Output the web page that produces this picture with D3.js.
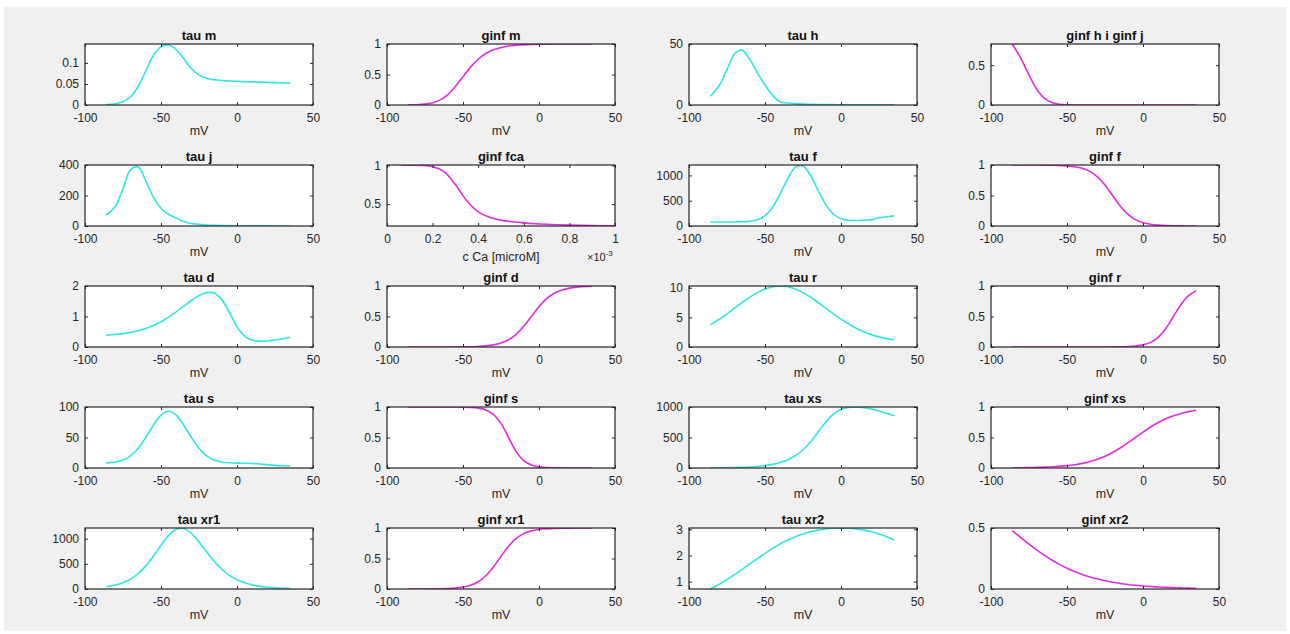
<!DOCTYPE html>
<html>
<head>
<meta charset="utf-8">
<script src="https://cdn.jsdelivr.net/npm/d3@7"></script>
<style>
  body { margin: 0; background: #fff; }
  svg text { font-family: "Liberation Sans", Arial, sans-serif; }
</style>
</head>
<body>
<svg id="fig" width="1290" height="634"></svg>
<script>
// membrane potential (mV) and calcium concentration samples
const voltage = [-86, -80, -75, -70, -65, -60, -55, -50, -45, -40, -35, -30, -25, -20, -15, -10, -5, 0, 5, 10, 15, 20, 25, 30, 35];
const calcium = [0.06e-3, 0.1e-3, 0.15e-3, 0.2e-3, 0.25e-3, 0.3e-3, 0.35e-3, 0.4e-3, 0.45e-3, 0.5e-3, 0.55e-3, 0.6e-3, 0.65e-3, 0.7e-3, 0.75e-3, 0.8e-3, 0.85e-3, 0.9e-3, 0.95e-3, 1e-3];

// values
const tauM = [0.0009, 0.0030, 0.0078, 0.0196, 0.0440, 0.0814, 0.1177, 0.1387, 0.1426, 0.1318, 0.1097, 0.0866, 0.0711, 0.0634, 0.0599, 0.0581, 0.0571, 0.0563, 0.0556, 0.0550, 0.0544, 0.0537, 0.0531, 0.0525, 0.0519];
const ginfM = [0.0015, 0.0051, 0.0140, 0.0358, 0.0834, 0.1713, 0.3039, 0.4642, 0.6210, 0.7502, 0.8435, 0.9052, 0.9438, 0.9671, 0.9809, 0.9890, 0.9936, 0.9963, 0.9979, 0.9988, 0.9993, 0.9996, 0.9998, 0.9999, 0.9999];
const tauH = [7.11, 16.2, 28.95, 42.0, 45.0, 37.24, 26.4, 16.4, 7.97, 2.55, 1.68, 1.13, 0.783, 0.560, 0.418, 0.328, 0.270, 0.233, 0.210, 0.195, 0.185, 0.179, 0.176, 0.174, 0.172];
const ginfH = [0.7655, 0.5733, 0.377, 0.2007, 0.0857, 0.0304, 0.0095, 0.0027, 0.0007, 0.0002, 0.00005, 0.00001, 0, 0, 0, 0, 0, 0, 0, 0, 0, 0, 0, 0, 0];
const tauJ = [71.7, 130, 244.6, 370, 387, 295, 189, 116.8, 75.5, 53, 28.8, 16.8, 10.4, 6.78, 4.63, 3.27, 2.37, 1.73, 1.28, 0.957, 0.715, 0.536, 0.402, 0.302, 0.227];
const ginfFca = [1.0064, 1.0045, 1.0007, 0.9851, 0.9202, 0.7536, 0.5427, 0.4001, 0.3285, 0.2921, 0.2704, 0.2559, 0.2454, 0.2378, 0.2321, 0.2277, 0.2241, 0.2211, 0.2184, 0.2160];
const tauF = [80.0, 80.0, 80.1, 80.5, 82.8, 92.1, 123, 204.3, 371.8, 636.6, 942.2, 1164.3, 1187.5, 999, 700.4, 422.2, 237.2, 145.6, 113.4, 109.2, 115.7, 125.3, 162.5, 182.7, 200.6];
const ginfF = [0.9999, 0.9998, 0.9996, 0.9992, 0.9984, 0.9967, 0.9933, 0.9864, 0.9727, 0.9457, 0.8950, 0.8067, 0.6714, 0.5, 0.3286, 0.1933, 0.1050, 0.0543, 0.0274, 0.0136, 0.0067, 0.0033, 0.0016, 0.0008, 0.0004];
const tauD = [0.389, 0.411, 0.438, 0.477, 0.531, 0.604, 0.702, 0.827, 0.979, 1.154, 1.341, 1.524, 1.682, 1.782, 1.767, 1.553, 1.126, 0.664, 0.360, 0.226, 0.189, 0.198, 0.228, 0.271, 0.322];
const ginfD = [0.00002, 0.00005, 0.00009, 0.00017, 0.00034, 0.00065, 0.0013, 0.0025, 0.0048, 0.0093, 0.018, 0.0344, 0.0649, 0.1192, 0.2086, 0.3393, 0.5, 0.6608, 0.7914, 0.8808, 0.9351, 0.9656, 0.982, 0.9907, 0.9952];
const tauR = [3.73, 4.71, 5.61, 6.56, 7.51, 8.41, 9.18, 9.79, 10.17, 10.3, 10.17, 9.79, 9.18, 8.41, 7.51, 6.56, 5.61, 4.71, 3.88, 3.17, 2.57, 2.09, 1.71, 1.42, 1.22];
const ginfR = [0, 0, 0, 0, 0, 0, 0, 0, 0.00002, 0.00005, 0.0001, 0.00024, 0.00055, 0.0013, 0.0029, 0.0067, 0.0153, 0.0344, 0.0759, 0.1589, 0.3029, 0.5, 0.6971, 0.8411, 0.9241];
const tauS = [8.44, 9.85, 13.1, 20.05, 32.35, 50.08, 70.19, 86.6, 93, 86.6, 70.19, 50.08, 32.35, 20.05, 13.1, 9.84, 8.54, 8.06, 7.80, 7.41, 6.66, 5.5, 4.34, 3.60, 3.24];
const ginfS = [1, 1, 1, 0.99995, 0.99988, 0.99966, 0.99909, 0.99753, 0.99331, 0.98201, 0.95257, 0.8808, 0.7311, 0.5, 0.2689, 0.1192, 0.0474, 0.018, 0.0067, 0.0025, 0.0009, 0.0003, 0.0001, 0, 0];
const tauXs = [1.95, 3.22, 4.88, 7.40, 11.2, 17.0, 25.8, 39.1, 59.1, 89.4, 134.7, 201.9, 298.7, 430.5, 591.5, 755.0, 884.2, 961.1, 994.0, 998.9, 987.6, 965.6, 935.8, 898.8, 854.8];
const ginfXs = [0.0031, 0.0047, 0.0067, 0.0095, 0.0136, 0.0193, 0.0274, 0.0386, 0.0543, 0.0759, 0.105, 0.1436, 0.1933, 0.2551, 0.3286, 0.4117, 0.5, 0.5883, 0.6714, 0.7449, 0.8067, 0.8564, 0.895, 0.9241, 0.9457];
const tauXr1 = [43.7, 78.2, 125.5, 198.7, 307.2, 458.9, 652.1, 867.0, 1061.8, 1184.3, 1198.2, 1103.7, 934.7, 737.0, 549.0, 391.8, 270.7, 183.2, 122.1, 80.5, 52.8, 34.4, 22.4, 14.6, 9.4];
const ginfXr1 = [0.0002, 0.00045, 0.0009, 0.0019, 0.0038, 0.0077, 0.0156, 0.0314, 0.0621, 0.1192, 0.2166, 0.3609, 0.5357, 0.7021, 0.828, 0.9077, 0.9526, 0.9762, 0.9882, 0.9942, 0.9971, 0.9986, 0.9993, 0.9997, 0.9998];
const tauXr2 = [0.719, 0.903, 1.077, 1.267, 1.468, 1.676, 1.883, 2.083, 2.270, 2.440, 2.589, 2.717, 2.822, 2.906, 2.970, 3.014, 3.040, 3.049, 3.040, 3.014, 2.970, 2.906, 2.822, 2.717, 2.589];
const ginfXr2 = [0.4792, 0.4174, 0.3678, 0.3208, 0.2772, 0.2375, 0.2018, 0.1703, 0.1429, 0.1192, 0.099, 0.0819, 0.0676, 0.0556, 0.0456, 0.0373, 0.0305, 0.0249, 0.0203, 0.0166, 0.0135, 0.011, 0.0089, 0.0073, 0.0059];

// axis ticks
const voltTicks = [-100, -50, 0, 50];
const caTicks = [0, 0.2e-3, 0.4e-3, 0.6e-3, 0.8e-3, 1e-3];
const unitTicks = [0, 0.5, 1];

const TAU = "#2ee5e5", GINF = "#e22be2";

const panels = [
  {title: "tau m", y: tauM, color: TAU, yDomain: [0, 0.145], yTicks: [0, 0.05, 0.1]},
  {title: "ginf m", y: ginfM, color: GINF, yDomain: [0, 1], yTicks: unitTicks},
  {title: "tau h", y: tauH, color: TAU, yDomain: [0, 50], yTicks: [0, 50]},
  {title: "ginf h i ginf j", y: ginfH, color: GINF, yDomain: [0, 0.7655], yTicks: [0, 0.5]},
  {title: "tau j", y: tauJ, color: TAU, yDomain: [0, 400], yTicks: [0, 200, 400]},
  {title: "ginf fca", x: calcium, y: ginfFca, color: GINF, yDomain: [0.216, 1.0064], yTicks: [0.5, 1],
   xDomain: [0, 1e-3], xTicks: caTicks, xLabel: "c Ca [microM]"},
  {title: "tau f", y: tauF, color: TAU, yDomain: [0, 1206], yTicks: [0, 500, 1000]},
  {title: "ginf f", y: ginfF, color: GINF, yDomain: [0, 1], yTicks: unitTicks},
  {title: "tau d", y: tauD, color: TAU, yDomain: [0, 2], yTicks: [0, 1, 2]},
  {title: "ginf d", y: ginfD, color: GINF, yDomain: [0, 1], yTicks: unitTicks},
  {title: "tau r", y: tauR, color: TAU, yDomain: [0, 10.3], yTicks: [0, 5, 10]},
  {title: "ginf r", y: ginfR, color: GINF, yDomain: [0, 1], yTicks: unitTicks},
  {title: "tau s", y: tauS, color: TAU, yDomain: [0, 100], yTicks: [0, 50, 100]},
  {title: "ginf s", y: ginfS, color: GINF, yDomain: [0, 1], yTicks: unitTicks},
  {title: "tau xs", y: tauXs, color: TAU, yDomain: [0, 1000], yTicks: [0, 500, 1000]},
  {title: "ginf xs", y: ginfXs, color: GINF, yDomain: [0, 1], yTicks: unitTicks},
  {title: "tau xr1", y: tauXr1, color: TAU, yDomain: [0, 1210], yTicks: [0, 500, 1000]},
  {title: "ginf xr1", y: ginfXr1, color: GINF, yDomain: [0, 1], yTicks: unitTicks},
  {title: "tau xr2", y: tauXr2, color: TAU, yDomain: [0.719, 3.05], yTicks: [1, 2, 3]},
  {title: "ginf xr2", y: ginfXr2, color: GINF, yDomain: [0, 0.5], yTicks: [0, 0.5]}
];

const svg = d3.select("#fig");
const axisColor = "#262626";

// figure background
svg.append("rect")
  .attr("x", 4).attr("y", 7)
  .attr("width", 1282).attr("height", 624)
  .attr("fill", "#f0f0f0");

const colLeft = 85, colStep = 302, plotW = 228;
const rowTop = 44, rowStep = 121, plotH = 61;

panels.forEach((p, i) => {
  let row = Math.floor(i / 4), col = i % 4;
  let left = colLeft + col * colStep;
  let top = rowTop + row * rowStep;

  let xs = p.x || voltage;
  let xScale = d3.scaleLinear().domain(p.xDomain || [-100, 50]).range([0, plotW]);
  let yScale = d3.scaleLinear().domain(p.yDomain).range([plotH, 0]);

  let g = svg.append("g").attr("transform", `translate(${left},${top})`);

  g.append("rect")
    .attr("width", plotW).attr("height", plotH)
    .attr("fill", "#fff");

  g.append("clipPath").attr("id", `clip${i}`)
    .append("rect").attr("width", plotW).attr("height", plotH);

  let line = d3.line()
    .x((d, k) => xScale(xs[k]))
    .y(d => yScale(d))
    .curve(d3.curveCatmullRom.alpha(0.5));

  g.append("path")
    .attr("clip-path", `url(#clip${i})`)
    .attr("d", line(p.y))
    .attr("fill", "none")
    .attr("stroke", p.color)
    .attr("stroke-width", 1.6);

  let xTicks = p.xTicks || voltTicks;
  let fmtX = p.xDomain ? (d => String(+(d * 1e3).toFixed(1))) : (d => String(d));

  // bottom axis with labels, ticks pointing inward
  let bottom = g.append("g")
    .attr("transform", `translate(0,${plotH})`)
    .call(d3.axisBottom(xScale).tickValues(xTicks).tickFormat(fmtX)
      .tickSizeInner(-3).tickSizeOuter(0).tickPadding(8));
  let topAx = g.append("g")
    .call(d3.axisTop(xScale).tickValues(xTicks).tickFormat("")
      .tickSizeInner(-3).tickSizeOuter(0));
  let leftAx = g.append("g")
    .call(d3.axisLeft(yScale).tickValues(p.yTicks).tickFormat(d => String(d))
      .tickSizeInner(-3).tickSizeOuter(0).tickPadding(6));
  let rightAx = g.append("g")
    .attr("transform", `translate(${plotW},0)`)
    .call(d3.axisRight(yScale).tickValues(p.yTicks).tickFormat("")
      .tickSizeInner(-3).tickSizeOuter(0));

  [bottom, topAx, leftAx, rightAx].forEach(a => {
    a.select(".domain").remove();
    a.selectAll("line").attr("stroke", axisColor);
    a.selectAll("text").attr("fill", axisColor).style("font-size", "12px");
  });

  // axes box
  g.append("rect")
    .attr("width", plotW).attr("height", plotH)
    .attr("fill", "none")
    .attr("stroke", axisColor)
    .attr("stroke-width", 1.2);

  // title
  g.append("text")
    .attr("x", plotW / 2).attr("y", -4)
    .attr("text-anchor", "middle")
    .style("font-size", "13px").style("font-weight", "bold")
    .attr("fill", "#111")
    .text(p.title);

  // x label
  g.append("text")
    .attr("x", plotW / 2).attr("y", plotH + (p.xDomain ? 35 : 30))
    .attr("text-anchor", "middle")
    .style("font-size", "12.5px")
    .attr("fill", axisColor)
    .text(p.xLabel || "mV");

  if (p.xDomain) {
    let ex = g.append("text")
      .attr("x", plotW - 28).attr("y", plotH + 35)
      .style("font-size", "11px")
      .attr("fill", axisColor);
    ex.append("tspan").text("\u00d710");
    ex.append("tspan").attr("dy", -5).style("font-size", "8px").text("-3");
  }
});
</script>
</body>
</html>
